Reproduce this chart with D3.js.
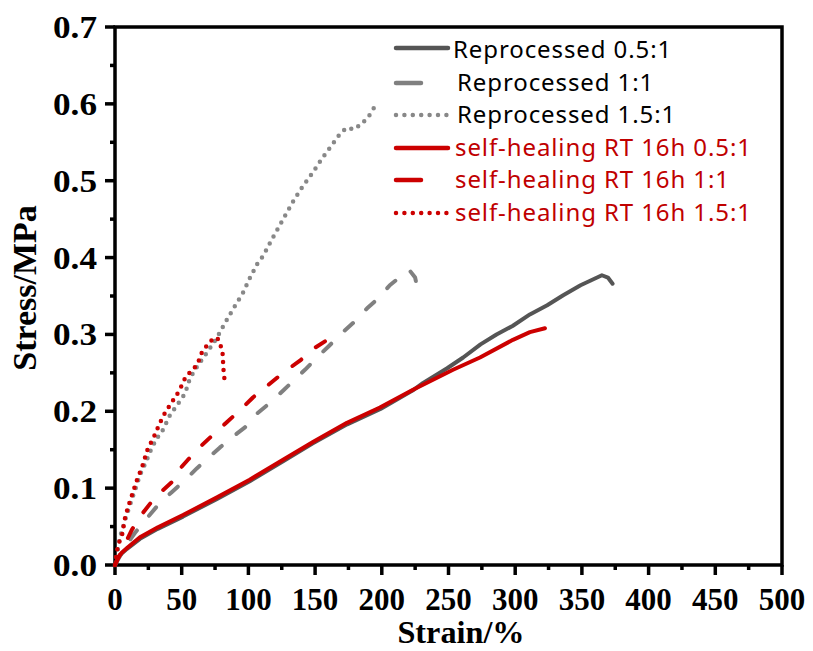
<!DOCTYPE html>
<html><head><meta charset="utf-8">
<script src="https://cdn.jsdelivr.net/npm/d3@7"></script>
<style>body{margin:0;background:#fff}svg{display:block}</style>
</head><body>
<svg id="c" width="813" height="651"></svg>
<script>
// ---- data (strain %, stress MPa) ----
const seriesNames = ["Reprocessed 0.5:1","Reprocessed 1:1","Reprocessed 1.5:1",
  "self-healing RT 16h 0.5:1","self-healing RT 16h 1:1","self-healing RT 16h 1.5:1"];
const rep05 = [[0,0],[2,0.008],[5,0.015],[9,0.021],[18.7,0.034],[32,0.047],[51,0.063],[76.5,0.086],[101,0.109],[126,0.135],[148,0.158],[174,0.183],[199,0.203],[223,0.227],[231,0.237],[249,0.256],[261,0.270],[274,0.287],[286,0.300],[298,0.311],[311,0.326],[324,0.338],[336,0.351],[349,0.364],[365,0.377],[369.5,0.374],[373,0.366]];
const rep10 = [[0,0],[8,0.025],[15,0.042],[24,0.061],[33.7,0.081],[42.7,0.095],[54,0.113],[61.5,0.126],[69.7,0.139],[78.7,0.153],[87.7,0.166],[97.4,0.179],[106.4,0.197],[116.2,0.211],[126.7,0.228],[142.4,0.254],[151.4,0.270],[160.4,0.285],[170.2,0.302],[179.2,0.316],[189,0.334],[198,0.348],[206,0.364],[217.4,0.380],[221,0.383],[225,0.374],[228,0.348]];
const rep15 = [[0,0],[3.7,0.036],[8.2,0.062],[11.2,0.078],[15.7,0.101],[18.7,0.117],[23.2,0.134],[26.2,0.147],[30.7,0.163],[36,0.176],[41.2,0.195],[46.5,0.208],[52.5,0.223],[56.2,0.243],[62.2,0.260],[67.5,0.273],[72.7,0.286],[76.5,0.296],[82.5,0.315],[89.2,0.335],[95.9,0.354],[101,0.373],[107,0.393],[111,0.402],[117.7,0.424],[126.7,0.452],[134.2,0.475],[140.9,0.493],[148.4,0.511],[155.2,0.529],[161.2,0.543],[167.9,0.559],[172.4,0.567],[176.2,0.566],[179.2,0.571],[182.9,0.571],[186.6,0.577],[191.1,0.586],[194.9,0.597]];
const sh05 = [[0,0],[2,0.009],[5,0.016],[9,0.022],[18.7,0.036],[32.2,0.049],[51,0.065],[76.5,0.088],[101,0.111],[126,0.137],[148.4,0.160],[173.9,0.185],[198.6,0.205],[223.4,0.228],[253.4,0.254],[273.6,0.270],[298.3,0.293],[311,0.303],[322.3,0.308]];
const sh10 = [[0,0],[6,0.022],[12.7,0.046],[21,0.068],[30,0.088],[42.7,0.108],[46.5,0.121],[54.7,0.137],[65.2,0.156],[75,0.172],[84,0.186],[95.2,0.204],[103.4,0.218],[114.7,0.234],[126,0.250],[139.4,0.267],[148.4,0.281],[157.4,0.291]];
const sh15 = [[0,0],[2.2,0.026],[5.2,0.038],[7.5,0.061],[9.7,0.075],[13.5,0.095],[16.5,0.111],[20.2,0.127],[24.7,0.152],[28.5,0.164],[33.7,0.185],[37.5,0.198],[42.7,0.212],[46.5,0.222],[50.2,0.234],[52.5,0.243],[57.7,0.254],[61.5,0.260],[65.2,0.277],[69,0.286],[72.7,0.293],[76.5,0.296],[78.7,0.289],[81,0.272],[81,0.260],[82.5,0.234]];
const xTicks = [0,50,100,150,200,250,300,350,400,450,500];
const yTicks = [0.0,0.1,0.2,0.3,0.4,0.5,0.6,0.7];
const xTitle = "Strain/%", yTitle = "Stress/MPa";

// ---- styles ----
const styles = [
  {data: rep05, color:"#555555", dash:null, text:"#000"},
  {data: rep10, color:"#808080", dash:"11,19", text:"#000"},
  {data: rep15, color:"#888888", dash:"0,8", text:"#000"},
  {data: sh05, color:"#cc0000", dash:null, text:"#c00000"},
  {data: sh10, color:"#cc0000", dash:"11,19", text:"#c00000"},
  {data: sh15, color:"#cc0000", dash:"0,8", text:"#c00000"}
];
const legendDash = [null, "25,27", "0,8.4", null, "25,27", "0,8.4"];

const svg = d3.select("#c");
const L=115, R=782, T=27, B=565;
const x = d3.scaleLinear().domain([0,500]).range([L,R]);
const y = d3.scaleLinear().domain([0,0.7]).range([B,T]);
const serif = "'Liberation Serif','Times New Roman',serif";
const sans = "'Noto Sans',sans-serif";

// minor ticks
const g = svg.append("g");
d3.range(25,500,50).forEach(v=>g.append("line").attr("x1",x(v)).attr("x2",x(v)).attr("y1",B).attr("y2",B+5).attr("stroke","#000").attr("stroke-width",3.5));
d3.range(0.05,0.7,0.1).forEach(v=>g.append("line").attr("y1",y(v)).attr("y2",y(v)).attr("x1",L).attr("x2",L-5).attr("stroke","#000").attr("stroke-width",3.5));
// major ticks
xTicks.forEach(v=>g.append("line").attr("x1",x(v)).attr("x2",x(v)).attr("y1",B).attr("y2",B+10).attr("stroke","#000").attr("stroke-width",3.5));
yTicks.forEach(v=>g.append("line").attr("y1",y(v)).attr("y2",y(v)).attr("x1",L).attr("x2",L-10).attr("stroke","#000").attr("stroke-width",3.5));
// frame
g.append("rect").attr("x",L).attr("y",T).attr("width",R-L).attr("height",B-T).attr("fill","none").attr("stroke","#000").attr("stroke-width",3.5);

// tick labels
xTicks.forEach(v=>svg.append("text").attr("x",x(v)).attr("y",610).attr("text-anchor","middle")
  .attr("font-family",serif).attr("font-weight","bold").attr("font-size",31).text(v));
yTicks.forEach(v=>svg.append("text").attr("transform",`translate(97,${y(v)+11}) scale(1.1,1)`).attr("text-anchor","end")
  .attr("font-family",serif).attr("font-weight","bold").attr("font-size",32).text(v.toFixed(1)));
// titles
svg.append("text").attr("transform","translate(461,643) scale(1.04,1)").attr("text-anchor","middle")
  .attr("font-family",serif).attr("font-weight","bold").attr("font-size",31).text(xTitle);
svg.append("text").attr("transform","translate(36,288) rotate(-90)").attr("text-anchor","middle")
  .attr("font-family",serif).attr("font-weight","bold").attr("font-size",34).text(yTitle);

// lines
const line = d3.line().x(d=>x(d[0])).y(d=>y(d[1]));
styles.forEach(s=>{
  svg.append("path").attr("d",line(s.data)).attr("fill","none").attr("stroke",s.color)
    .attr("stroke-width",s.dash && s.dash.startsWith("0")?4.5:4).attr("stroke-linecap","round").attr("stroke-linejoin","round")
    .attr("stroke-dasharray",s.dash);
});

// legend
const lineY=[48,83,115,148,180,213];
const textY=[58,91,123,156,188,221];
const textX=[453,457,457,455,455,455];
styles.forEach((s,i)=>{
  svg.append("line").attr("x1",396).attr("x2",448).attr("y1",lineY[i]).attr("y2",lineY[i])
    .attr("stroke",s.color).attr("stroke-width",4.5).attr("stroke-linecap","round")
    .attr("stroke-dasharray",legendDash[i]);
  svg.append("text").attr("x",textX[i]).attr("y",textY[i]).attr("font-family",sans).attr("font-size",24)
    .attr("letter-spacing",0.9).attr("fill",s.text).text(seriesNames[i]);
});
</script>
</body></html>
